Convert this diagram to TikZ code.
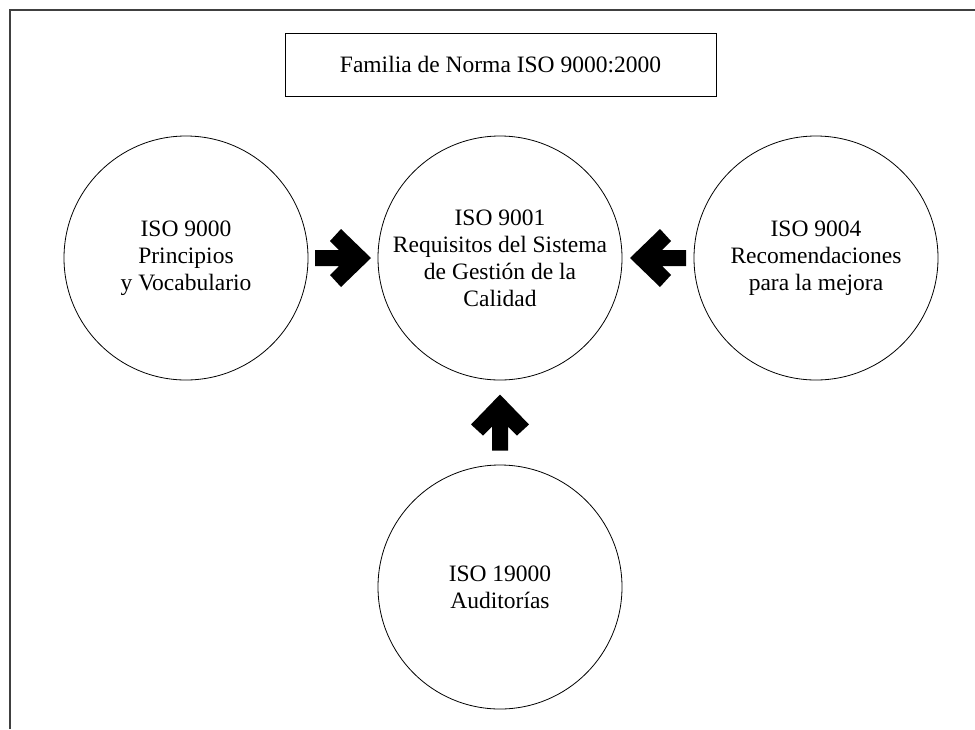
\documentclass[tikz,border=0pt]{standalone}
\usepackage{fontspec}
\setmainfont{Liberation Serif}
\usetikzlibrary{calc}
\tikzset{
	blockarrow/.pic={\fill (28,0)--(-2,29)--(-13,17)--(-4,8)--(-28,8)--(-28,-8)--(-4,-8)--(-13,-17)--(-2,-29)--cycle;}
}
\begin{document}
\begin{tikzpicture}[x=1pt, y=-1pt, font=\fontsize{23.5}{27}\selectfont, line join=miter,
	norma/.style={circle, draw, line width=.8pt, minimum size=244pt, inner sep=0pt, align=center},
	titulo/.style={draw, line width=.8pt, minimum width=431pt, minimum height=63pt}]
	\useasboundingbox (0,0) rectangle (975,729);
	\draw[line width=1.5pt, black!75] (10,729)--(10,10)--(975,10);
	\node[titulo] (familia) at (500.5,64.5) {Familia de Norma ISO 9000:2000};
	\node[norma] (iso9000) at (186,258) {ISO 9000\\Principios\\y Vocabulario};
	\node[norma] (iso9001) at (500,258) {ISO 9001\\Requisitos del Sistema\\de Gestión de la\\Calidad};
	\node[norma] (iso9004) at (816,258) {ISO 9004\\Recomendaciones\\para la mejora};
	\node[norma] (iso19000) at (500,587) {ISO 19000\\Auditorías};

	\foreach \from/\ang in {iso9000/0,iso9004/180,iso19000/90}
		\pic[rotate=\ang] at ($(\from)!.5!(iso9001)$) {blockarrow};
\end{tikzpicture}
\end{document}
